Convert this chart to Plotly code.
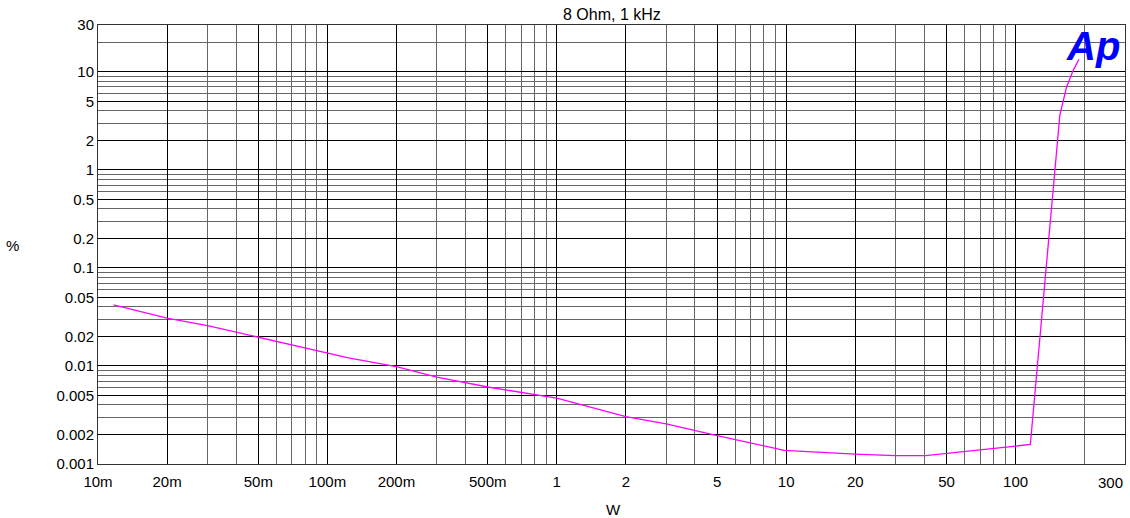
import plotly.graph_objects as go
import numpy as np

# Data
power_w = [0.0117, 0.02, 0.03, 0.05, 0.1, 0.1236, 0.2, 0.3, 0.5, 1, 2, 3, 5, 9.8,
           20, 30, 40.5, 116, 156, 167, 178.6, 189]
thd_pct = [0.0419, 0.0308, 0.0258, 0.0196, 0.0136, 0.0121, 0.00984, 0.0077, 0.0061,
           0.0047, 0.00304, 0.00256, 0.00195, 0.00138, 0.00126, 0.00122, 0.00122,
           0.00158, 3.62, 7.05, 10.4, 13.4]

x_tickvals = [0.01, 0.02, 0.05, 0.1, 0.2, 0.5, 1, 2, 5, 10, 20, 50, 100, 300]
x_ticktext = ["10m", "20m", "50m", "100m", "200m", "500m", "1", "2", "5", "10", "20", "50", "100", ""]
y_tickvals = [0.001, 0.002, 0.005, 0.01, 0.02, 0.05, 0.1, 0.2, 0.5, 1, 2, 5, 10, 30]
y_ticktext = ["0.001", "0.002", "0.005", "0.01", "0.02", "0.05", "0.1", "0.2", "0.5", "1", "2", "5", "10", "30"]

x_minor = [m * 10.0 ** e for e in range(-2, 3) for m in range(1, 10) if m * 10.0 ** e <= 300]
y_minor = [m * 10.0 ** e for e in range(-3, 2) for m in range(1, 10) if m * 10.0 ** e <= 30]

FONT = "Liberation Sans, Arial, sans-serif"
TS = 15

fig = go.Figure()
fig.add_trace(go.Scatter(x=power_w, y=thd_pct, mode="lines",
                         line=dict(color="#FF00FF", width=1.3), showlegend=False,
                         hoverinfo="skip"))

fig.update_layout(
    width=1130, height=518,
    margin=dict(l=98, r=5, t=25, b=54),
    paper_bgcolor="white", plot_bgcolor="white",
    font=dict(family=FONT, size=TS, color="black"),
    xaxis=dict(type="log", range=[np.log10(0.01), np.log10(300)],
               tickmode="array", tickvals=x_tickvals, ticktext=x_ticktext,
               showgrid=True, gridcolor="#000000", gridwidth=1,
               minor=dict(tickmode="array", tickvals=x_minor, showgrid=True,
                          gridcolor="#666666", gridwidth=1, ticks=""),
               showline=True, linecolor="#333333", linewidth=1, mirror=True,
               ticks="", zeroline=False, tickfont=dict(size=TS),
               ticklabelstandoff=4),
    yaxis=dict(type="log", range=[np.log10(0.001), np.log10(30)],
               tickmode="array", tickvals=y_tickvals, ticktext=y_ticktext,
               showgrid=True, gridcolor="#000000", gridwidth=1,
               minor=dict(tickmode="array", tickvals=y_minor, showgrid=True,
                          gridcolor="#666666", gridwidth=1, ticks=""),
               showline=True, linecolor="#333333", linewidth=1, mirror=True,
               ticks="", zeroline=False, tickfont=dict(size=TS)),
)

annotations = [
    dict(text="8 Ohm, 1 kHz", xref="paper", yref="paper", x=0.5, y=1,
         yanchor="bottom", xanchor="center", showarrow=False, yshift=0,
         font=dict(size=16, family=FONT)),
    dict(text="%", xref="paper", yref="paper", x=-0.083, y=0.497,
         xanchor="center", yanchor="middle", showarrow=False,
         font=dict(size=TS, family=FONT)),
    dict(text="W", xref="paper", yref="paper", x=0.502, y=0,
         xanchor="center", yanchor="top", yshift=-35, showarrow=False,
         font=dict(size=TS, family=FONT)),
    dict(text="300", xref="x", yref="paper", x=np.log10(300), y=0,
         xanchor="center", yanchor="top", xshift=-15, yshift=-8, showarrow=False,
         font=dict(size=TS, family=FONT)),
    dict(text="<b><i>Ap</i></b>", xref="paper", yref="paper", x=1, y=1,
         xanchor="right", yanchor="top", xshift=-3, yshift=3, showarrow=False,
         font=dict(size=40, family="Liberation Sans Narrow, Liberation Sans, sans-serif",
                   color="#0000FF")),
]
fig.update_layout(annotations=annotations)

fig.write_html("out.html")
